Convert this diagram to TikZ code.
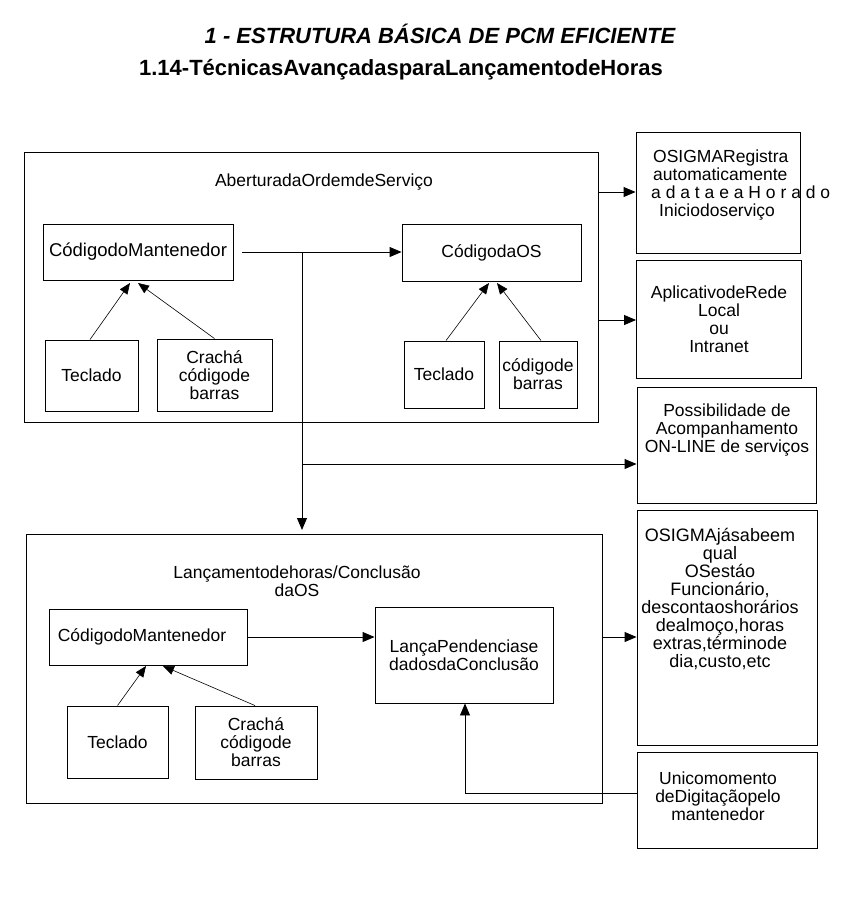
\documentclass[tikz,border=0pt]{standalone}
\usepackage{fontspec}
\setmainfont{Liberation Sans}
\usetikzlibrary{arrows.meta}
\begin{document}
\begin{tikzpicture}[x=1pt,y=-1pt,
  box/.style={draw, line width=0.9pt, inner sep=0pt, align=center, font=\fontsize{17.5}{18}\selectfont},
  lbl/.style={inner sep=0pt, align=center, font=\fontsize{17.5}{18}\selectfont},
  big/.style={font=\fontsize{18.5}{19}\selectfont},
  arr/.style={line width=0.9pt, -{Triangle[length=12pt,width=10pt]}},
  sarr/.style={line width=0.6pt, -{Triangle[length=11pt,width=9pt]}},
  ln/.style={line width=0.9pt}]
\useasboundingbox (0,0) rectangle (845,898);
% titles
\node[inner sep=0pt, font=\fontsize{22}{26}\selectfont\bfseries\itshape] (t1) at (440,34) {1 - ESTRUTURA BÁSICA DE PCM EFICIENTE};
\node[inner sep=0pt, font=\fontsize{22}{26}\selectfont\bfseries] (t2) at (401,70) {1.14-TécnicasAvançadasparaLançamentodeHoras};
% top outer box
\node[box, minimum width=574pt, minimum height=270pt] (o1) at (311,287) {};
\node[lbl] (o1t) at (324,182) {AberturadaOrdemdeServiço};
\node[box, big, minimum width=190pt, minimum height=56pt] (cm1) at (138,252) {CódigodoMantenedor};
\node[box, minimum width=179pt, minimum height=57pt] (cos) at (491.5,252.5) {CódigodaOS};
\node[box, minimum width=93pt, minimum height=71pt] (tec1) at (91.5,375.5) {Teclado};
\node[box, minimum width=115pt, minimum height=72pt] (cra1) at (214.5,375) {Crachá\\códigode\\barras};
\node[box, minimum width=80pt, minimum height=67pt] (tec2) at (444,374.5) {Teclado};
\node[box, minimum width=78pt, minimum height=67pt] (cb2) at (538,374.5) {códigode\\barras};
% bottom outer box
\node[box, minimum width=576pt, minimum height=269pt] (o2) at (314,668.5) {};
\node[lbl] (o2t) at (297,581) {Lançamentodehoras/Conclusão\\daOS};
\node[box, minimum width=198pt, minimum height=56pt] (cm2) at (148,637) {\hspace*{-12pt}CódigodoMantenedor};
\node[box, minimum width=178pt, minimum height=96pt] (lan) at (464,655) {LançaPendenciase\\dadosdaConclusão};
\node[box, minimum width=101pt, minimum height=72pt] (tec3) at (117.5,742) {Teclado};
\node[box, minimum width=122pt, minimum height=73pt] (cra3) at (256,742.5) {Crachá\\códigode\\barras};
% right boxes
\node[box, minimum width=164pt, minimum height=121pt] (r1) at (718,192.5) {};
\node[lbl, align=left, anchor=north west] (r1t) at (653,150) {OSIGMARegistra\\automaticamente\\\hspace*{-2pt}a d a t a e a H o r a d o\\\hspace*{6pt}Iniciodoserviço};
\node[box, minimum width=165pt, minimum height=118pt] (r2) at (719,319) {AplicativodeRede\\Local\\ou\\Intranet};
\node[box, minimum width=179pt, minimum height=116pt] (r3) at (726.5,445.5) {};
\node[lbl] (r3t) at (727,430) {Possibilidade de\\Acompanhamento\\ON-LINE de serviços};
\node[box, minimum width=180pt, minimum height=235pt] (r4) at (727,627.5) {};
\node[lbl, font=\fontsize{18}{18}\selectfont] (r4t) at (720,599) {OSIGMAjásabeem\\qual\\OSestáo\\Funcionário,\\descontaoshorários\\dealmoço,horas\\extras,términode\\dia,custo,etc};
\node[box, minimum width=180pt, minimum height=96pt] (r5) at (727,800) {};
\node[lbl] (r5t) at (718,796) {Unicomomento\\deDigitaçãopelo\\mantenedor};
% connectors top
\coordinate (j1s) at (242,252);
\coordinate (j1) at (302,252);
\coordinate (j2) at (302,464);
\coordinate (o2in) at (302,530);
\draw[arr] (j1s) -- (cos.west |- j1s);
\draw[arr] (j1) -- (o2in);
\draw[arr] (j2) -- (r3.west |- j2);
\coordinate (cm1a) at (130,283);
\coordinate (cm1b) at (138,283);
\coordinate (cosa) at (489,283);
\coordinate (cosb) at (497,283);
\draw[sarr] (tec1.north -| 90,0) -- (cm1a);
\draw[sarr] (cra1.north) -- (cm1b);
\draw[sarr] (tec2.north -| 446,0) -- (cosa);
\draw[sarr] (cb2.north -| 541,0) -- (cosb);
\draw[arr] (o1.east |- 0,192) -- (r1.west |- 0,192);
\draw[arr] (o1.east |- 0,320) -- (r2.west |- 0,320);
% connectors bottom
\draw[arr] (cm2.east) -- (lan.west |- cm2.east);
\coordinate (cm2a) at (146,666);
\coordinate (cm2b) at (163,666);
\draw[sarr] (tec3.north) -- (cm2a);
\draw[sarr] (cra3.north -| 255,0) -- (cm2b);
\draw[arr] (o2.east |- cm2.east) -- (r4.west |- cm2.east);
\coordinate (bend) at (465,793);
\draw[arr] (r5.west |- bend) -- (bend) -- (lan.south -| bend);
\end{tikzpicture}
\end{document}
